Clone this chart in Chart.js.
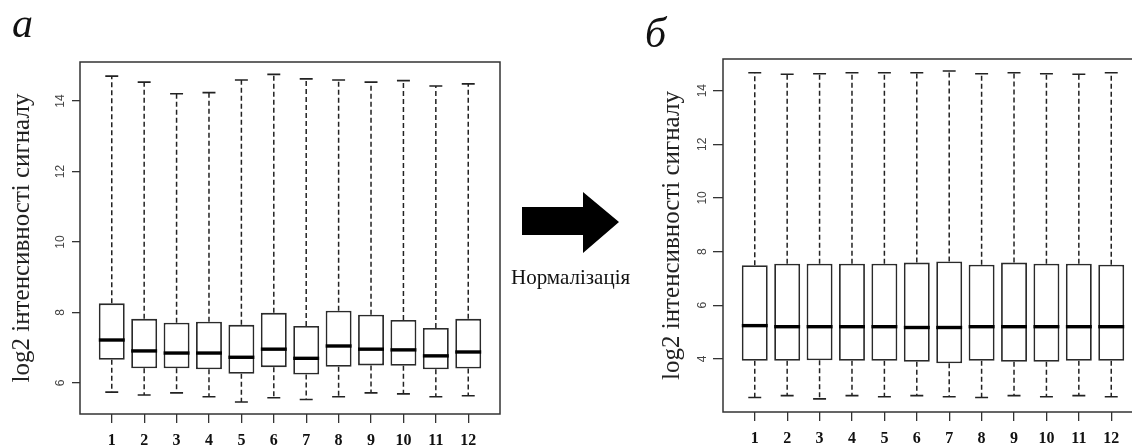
<!DOCTYPE html>
<html>
<head>
<meta charset="utf-8">
<script src="https://cdn.jsdelivr.net/npm/chart.js@4/dist/chart.umd.min.js"></script>
<style>
  html, body { margin: 0; padding: 0; background: #fff; width: 1132px; height: 445px; overflow: hidden; }
  #page { position: relative; width: 1132px; height: 445px; overflow: hidden; }
  canvas { position: absolute; top: 0; }
  #rawChart { left: 0; }
  #normChart { left: 600px; }
  .panel-letter { position: absolute; font-family: 'Liberation Serif', serif; font-style: italic; font-size: 42px; line-height: 1; color: #111; }
  #arrowText { position: absolute; left: 511px; top: 267px; font-family: 'Liberation Serif', serif; font-size: 21px; line-height: 1; color: #111; }
  #arrow { position: absolute; left: 0; top: 0; }
</style>
</head>
<body>
<div id="page">
  <canvas id="rawChart" width="510" height="445"></canvas>
  <canvas id="normChart" width="560" height="445"></canvas>
  <div class="panel-letter" style="left:12px; top:2px;">а</div>
  <div class="panel-letter" style="left:645px; top:12px;">б</div>
  <svg id="arrow" width="1132" height="445">
    <polygon points="522,207 583,207 583,192 619,222 583,253 583,235 522,235" fill="#000"></polygon>
  </svg>
  <div id="arrowText">Нормалізація</div>
</div>
<script>
const boxLabels = ['1', '2', '3', '4', '5', '6', '7', '8', '9', '10', '11', '12'];
const axisTitle = 'log2 інтенсивності сигналу';

// а: before normalization
const rawLower = [5.74, 5.66, 5.72, 5.61, 5.46, 5.58, 5.53, 5.61, 5.72, 5.69, 5.61, 5.64];
const rawQ1 = [6.66, 6.42, 6.42, 6.39, 6.26, 6.45, 6.24, 6.46, 6.50, 6.49, 6.39, 6.41];
const rawMedian = [7.22, 6.91, 6.85, 6.85, 6.73, 6.96, 6.70, 7.05, 6.96, 6.94, 6.77, 6.88];
const rawQ3 = [8.26, 7.82, 7.71, 7.74, 7.65, 7.99, 7.62, 8.05, 7.94, 7.79, 7.56, 7.82];
const rawUpper = [14.71, 14.54, 14.21, 14.24, 14.60, 14.76, 14.63, 14.60, 14.54, 14.58, 14.43, 14.49];
const rawYTicks = [6, 8, 10, 12, 14];

// б: after normalization
const normLower = [2.56, 2.63, 2.51, 2.63, 2.59, 2.63, 2.59, 2.56, 2.63, 2.59, 2.63, 2.59];
const normQ1 = [3.93, 3.93, 3.95, 3.93, 3.93, 3.89, 3.84, 3.93, 3.89, 3.89, 3.93, 3.93];
const normMedian = [5.24, 5.20, 5.20, 5.20, 5.20, 5.17, 5.17, 5.20, 5.20, 5.20, 5.20, 5.20];
const normQ3 = [7.49, 7.55, 7.55, 7.55, 7.55, 7.59, 7.63, 7.51, 7.59, 7.55, 7.55, 7.51];
const normUpper = [14.67, 14.61, 14.63, 14.67, 14.67, 14.67, 14.73, 14.63, 14.67, 14.63, 14.61, 14.67];
const normYTicks = [4, 6, 8, 10, 12, 14];

function makeBoxPlugin(stats) {
  return {
    id: 'boxParts',
    afterDatasetsDraw(chart) {
      const { ctx, chartArea } = chart;
      const yScale = chart.scales.y;
      const meta = chart.getDatasetMeta(0);
      ctx.save();
      meta.data.forEach((bar, i) => {
        const { x, width } = bar.getProps(['x', 'width'], true);
        const half = width / 2;
        const cap = width / 4;
        const yLow = yScale.getPixelForValue(stats.lower[i]);
        const yQ1 = yScale.getPixelForValue(stats.q1[i]);
        const yMed = yScale.getPixelForValue(stats.median[i]);
        const yQ3 = yScale.getPixelForValue(stats.q3[i]);
        const yUp = yScale.getPixelForValue(stats.upper[i]);

        ctx.strokeStyle = '#222';
        ctx.lineWidth = 1.5;
        ctx.setLineDash([5, 3]);
        ctx.beginPath();
        ctx.moveTo(x, yQ3);
        ctx.lineTo(x, yUp);
        ctx.moveTo(x, yQ1);
        ctx.lineTo(x, yLow);
        ctx.stroke();

        ctx.setLineDash([]);
        ctx.lineWidth = 1.6;
        ctx.beginPath();
        ctx.moveTo(x - cap, yUp);
        ctx.lineTo(x + cap, yUp);
        ctx.moveTo(x - cap, yLow);
        ctx.lineTo(x + cap, yLow);
        ctx.stroke();

        ctx.strokeStyle = '#000';
        ctx.lineWidth = 3.4;
        ctx.beginPath();
        ctx.moveTo(x - half, yMed);
        ctx.lineTo(x + half, yMed);
        ctx.stroke();
      });
      ctx.strokeStyle = '#333';
      ctx.lineWidth = 1.5;
      ctx.strokeRect(chartArea.left, chartArea.top, chartArea.right - chartArea.left, chartArea.bottom - chartArea.top);
      ctx.restore();
    }
  };
}

function drawBoxChart(canvasId, stats, layout) {
  const ctx = document.getElementById(canvasId);
  return new Chart(ctx, {
    type: 'bar',
    data: {
      datasets: [
        {
          data: boxLabels.map((label, i) => ({ x: i + 1, y: [stats.q1[i], stats.q3[i]] })),
          backgroundColor: '#fff',
          borderColor: '#2a2a2a',
          borderWidth: 1.8,
          borderSkipped: false,
          barPercentage: 0.8,
          categoryPercentage: 1
        }
      ]
    },
    options: {
      responsive: false,
      devicePixelRatio: 1,
      animation: false,
      layout: {
        padding: { left: layout.padLeft, right: layout.padRight, top: layout.top, bottom: 0 }
      },
      plugins: {
        legend: { display: false },
        tooltip: { enabled: false }
      },
      scales: {
        x: {
          type: 'linear',
          min: 0.02,
          max: 12.98,
          offset: false,
          afterBuildTicks: (scale) => {
            scale.ticks = boxLabels.map((label, i) => ({ value: i + 1 }));
          },
          afterFit: (scale) => {
            scale.height = layout.xHeight;
          },
          grid: { offset: false, drawOnChartArea: false, tickLength: 9, color: '#333', lineWidth: 1.3 },
          border: { display: false },
          ticks: {
            autoSkip: false,
            maxRotation: 0,
            padding: 8,
            color: '#111',
            font: { family: 'Liberation Serif', size: 16, weight: 'bold' },
            callback: (value) => boxLabels[value - 1]
          }
        },
        y: {
          min: layout.yMin,
          max: layout.yMax,
          afterBuildTicks: (scale) => {
            scale.ticks = layout.yTicks.map((value) => ({ value }));
          },
          afterFit: (scale) => {
            scale.width = layout.yWidth;
          },
          grid: { drawOnChartArea: false, tickLength: layout.tickLength, color: '#333', lineWidth: 1.3 },
          border: { display: false },
          ticks: {
            minRotation: 90,
            maxRotation: 90,
            crossAlign: 'center',
            padding: layout.tickPadding,
            color: '#444',
            font: { family: 'Liberation Sans', size: 12 }
          },
          title: {
            display: true,
            text: axisTitle,
            color: '#222',
            padding: { top: 0, bottom: 0 },
            font: { family: 'Liberation Serif', size: 25, lineHeight: 1 }
          }
        }
      }
    },
    plugins: [makeBoxPlugin(stats)]
  });
}

drawBoxChart(
  'rawChart',
  { lower: rawLower, q1: rawQ1, median: rawMedian, q3: rawQ3, upper: rawUpper },
  { padLeft: 10, padRight: 10, top: 62, yWidth: 70, xHeight: 31, yMin: 5.12, yMax: 15.11, yTicks: rawYTicks, tickLength: 8, tickPadding: 5 }
);

drawBoxChart(
  'normChart',
  { lower: normLower, q1: normQ1, median: normMedian, q3: normQ3, upper: normUpper },
  { padLeft: 60, padRight: 17, top: 59, yWidth: 63, xHeight: 33, yMin: 2.02, yMax: 15.18, yTicks: normYTicks, tickLength: 10, tickPadding: 4 }
);
</script>
</body>
</html>
